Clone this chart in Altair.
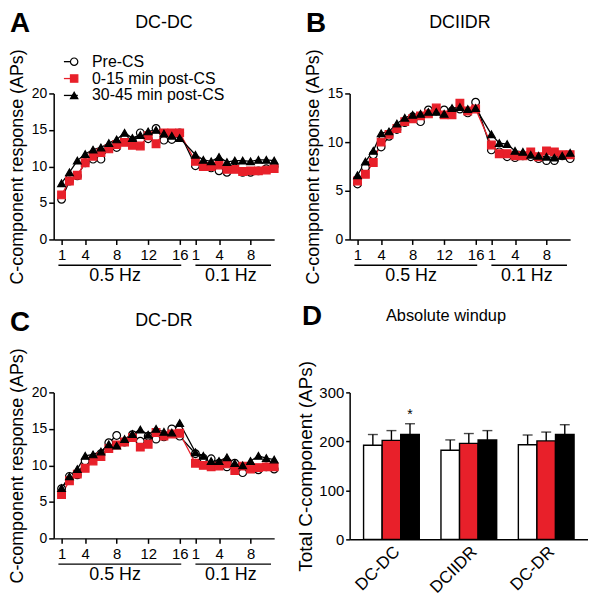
import altair as alt
import pandas as pd

FONT = "Liberation Sans"
SERIES = ["Pre-CS", "0-15 min post-CS", "30-45 min post-CS"]
LINE_COLORS = ["#000000", "#e8202a", "#000000"]
FILL_COLORS = ["#ffffff", "#e8202a", "#000000"]
SHAPES = ["circle", "square", "triangle-up"]
BAR_FILLS = ["#ffffff", "#e8202a", "#231f20"]

# stimulus number: 16 at 0.5 Hz then 11 at 0.1 Hz
N_FAST = 16
XTICK_POS = [1, 4, 8, 12, 16, 18, 21, 25]

# ---- Panel A: DC-DC ----
A_pre = [5.5, 8.0, 8.7, 10.5, 11.0, 11.0, 12.5, 12.6, 13.8, 13.5, 14.6, 13.8, 15.2, 13.6, 13.7, 14.6,
         10.1, 10.2, 9.8, 9.4, 9.2, 9.8, 9.2, 9.2, 9.4, 9.7, 10.0]
A_early = [6.1, 8.0, 8.8, 10.5, 11.4, 11.9, 12.4, 13.0, 13.3, 12.9, 12.8, 14.2, 13.1, 14.6, 14.6, 14.6,
           10.7, 10.0, 10.0, 10.2, 9.6, 9.6, 9.3, 9.4, 9.4, 9.5, 9.7]
A_late = [7.7, 9.2, 10.8, 11.7, 12.3, 12.6, 13.2, 13.7, 14.6, 13.9, 14.3, 14.8, 15.0, 14.5, 14.2, 13.9,
          11.6, 10.9, 10.7, 11.3, 10.6, 10.8, 10.8, 10.7, 10.9, 10.9, 10.8]

# ---- Panel B: DCIIDR ----
B_pre = [5.7, 7.4, 8.7, 9.5, 10.6, 11.3, 12.0, 12.6, 12.1, 13.3, 13.2, 13.3, 13.2, 13.4, 13.0, 14.1,
         9.2, 9.0, 8.5, 8.4, 8.6, 8.5, 8.3, 8.1, 8.1, 8.6, 8.3]
B_early = [6.0, 6.7, 7.9, 10.0, 10.8, 11.4, 12.1, 12.4, 12.7, 12.9, 13.5, 12.8, 12.8, 14.0, 13.2, 13.4,
           9.7, 8.8, 8.8, 8.6, 8.6, 9.0, 8.5, 9.1, 9.0, 8.7, 8.7]
B_late = [6.6, 8.0, 9.1, 10.9, 11.1, 11.9, 12.5, 12.8, 12.9, 13.1, 13.1, 12.9, 13.5, 13.6, 13.4, 13.5,
          10.8, 9.9, 9.8, 9.1, 9.0, 8.7, 8.6, 8.5, 8.4, 8.6, 8.9]

# ---- Panel C: DC-DR ----
C_pre = [6.8, 8.5, 8.7, 10.6, 11.0, 11.6, 13.1, 14.1, 13.2, 14.2, 13.3, 14.0, 13.6, 13.9, 15.0, 14.0,
         11.6, 11.0, 10.9, 10.3, 9.8, 10.3, 9.0, 9.8, 9.4, 9.8, 9.5]
C_early = [6.0, 7.9, 8.8, 9.6, 10.6, 11.2, 12.3, 12.8, 13.2, 13.8, 12.5, 12.9, 14.5, 14.0, 14.3, 14.4,
           10.3, 10.0, 9.8, 9.9, 10.2, 9.3, 9.9, 9.5, 9.7, 9.8, 9.8]
C_late = [6.9, 8.5, 9.5, 11.3, 11.5, 11.9, 12.9, 12.7, 13.6, 14.3, 14.9, 14.2, 15.0, 14.6, 14.5, 15.8,
          11.8, 11.3, 10.6, 10.6, 11.1, 10.3, 10.0, 10.6, 11.3, 11.0, 10.8]

# frequency underlines (in stimulus-position units)
HZ_LABELS = ["0.5 Hz", "0.1 Hz"]
HZ_START = [0.6, 18.0]
HZ_END = [16.2, 27.6]
HZ_MID = [7.8, 22.5]

# ---- Panel D: absolute windup ----
BAR_COND = ["DC-DC", "DCIIDR", "DC-DR"]
PRE_MEAN = [192, 182, 193]
EARLY_MEAN = [202, 196, 201]
LATE_MEAN = [214, 203, 214]
PRE_SEM = [22, 21, 20]
EARLY_SEM = [20, 20, 18]
LATE_SEM = [22, 19, 20]
STAR_COND = ["DC-DC"]
STAR_SERIES = ["30-45 min post-CS"]

W, H = 222, 147
WD, HD = 240, 148


def long_df(pre, early, late):
    rows = []
    for si, (s, vals) in enumerate(zip(SERIES, [pre, early, late])):
        for k, v in enumerate(vals, start=1):
            pos = k if k <= N_FAST else k + 1
            rows.append({"series": s, "series_l": s, "sidx": si, "pos": pos, "value": v})
    return pd.DataFrame(rows)


def text_layer(text, x, y, size, weight="normal", align="left", baseline="alphabetic"):
    return alt.Chart(pd.DataFrame({"t": [text]})).mark_text(
        font=FONT, fontSize=size, fontWeight=weight, align=align, baseline=baseline, color="black"
    ).encode(x=alt.value(x), y=alt.value(y), text="t:N")


def line_panel(df, ymax, yticks, letter, title, title_y, show_legend):
    xscale = alt.Scale(domain=[0, 28], nice=False, zero=False)
    yscale = alt.Scale(domain=[0, ymax], nice=False)
    xaxis = alt.Axis(values=XTICK_POS, title=None, labelPadding=3, labelOverlap=False, labelFlush=False,
                     labelFontSize=15,
                     labelExpr="datum.value > 16 ? datum.value - 17 : datum.value")
    yaxis = alt.Axis(values=yticks, title="C-component response (APs)", titlePadding=5, labelOverlap=False)
    xenc = alt.X("pos:Q", scale=xscale, axis=xaxis)
    yenc = alt.Y("value:Q", scale=yscale, axis=yaxis)
    if show_legend:
        line_leg = alt.Legend(title=None, orient="none", legendX=9.3, legendY=-40, symbolType="stroke",
                              symbolSize=196, symbolStrokeWidth=1.3, labelExpr="''", labelFontSize=16,
                              labelFont=FONT, rowPadding=1, padding=0, labelOffset=0)
        pt_leg = alt.Legend(title=None, orient="none", legendX=12.6, legendY=-40, symbolSize=55,
                            symbolStrokeWidth=1.2, labelFontSize=16, labelFont=FONT, labelColor="black",
                            rowPadding=1, padding=0, labelOffset=10)
    else:
        line_leg = None
        pt_leg = None
    lines = alt.Chart(df).mark_line(strokeWidth=1.3).encode(
        x=xenc, y=yenc,
        color=alt.Color("series_l:N", sort=SERIES, scale=alt.Scale(range=LINE_COLORS), legend=line_leg),
    )
    points = alt.Chart(df).mark_point(size=60, strokeWidth=1.2, opacity=1).encode(
        x=xenc, y=yenc,
        shape=alt.Shape("series:N", scale=alt.Scale(domain=SERIES, range=SHAPES), legend=pt_leg),
        fill=alt.Fill("series:N", scale=alt.Scale(domain=SERIES, range=FILL_COLORS), legend=pt_leg),
        stroke=alt.Stroke("series:N", scale=alt.Scale(domain=SERIES, range=LINE_COLORS), legend=pt_leg),
        order=alt.Order("sidx:Q"),
    )
    hz = pd.DataFrame({"label": HZ_LABELS, "start": HZ_START, "end": HZ_END, "mid": HZ_MID})
    under = alt.Chart(hz).mark_rule(color="black", strokeWidth=1.3).encode(
        x=alt.X("start:Q", scale=xscale, axis=xaxis), x2="end:Q", y=alt.value(H + 26))
    hz_txt = alt.Chart(hz).mark_text(font=FONT, fontSize=18, baseline="middle", color="black").encode(
        x=alt.X("mid:Q", scale=xscale, axis=xaxis), y=alt.value(H + 37), text="label:N")
    return alt.layer(
        lines, points, under, hz_txt,
        text_layer(letter, -44, -62, 28, weight="bold"),
        text_layer(title, W / 2, title_y, 18, align="center", baseline="middle"),
    ).properties(width=W, height=H)


A = line_panel(long_df(A_pre, A_early, A_late), 20, [0, 5, 10, 15, 20], "A", "DC-DC", -71, True)
B = line_panel(long_df(B_pre, B_early, B_late), 15, [0, 5, 10, 15], "B", "DCIIDR", -71, False)
C = line_panel(long_df(C_pre, C_early, C_late), 20, [0, 5, 10, 15, 20], "C", "DC-DR", -72, False)

# bar data
brows = []
for s, means, sems in zip(SERIES, [PRE_MEAN, EARLY_MEAN, LATE_MEAN], [PRE_SEM, EARLY_SEM, LATE_SEM]):
    for c, m, e in zip(BAR_COND, means, sems):
        brows.append({"cond": c, "series": s, "mean": m, "upper": m + e})
bdf = pd.DataFrame(brows)
star_df = bdf[bdf["cond"].isin(STAR_COND) & bdf["series"].isin(STAR_SERIES)].assign(star="*")

bscale = alt.Scale(paddingInner=0.28, paddingOuter=0.18)
bxaxis = alt.Axis(title=None, labelAngle=-45, labelFontSize=17, ticks=False, labelPadding=4)
byscale = alt.Scale(domain=[0, 300], nice=False)
byaxis = alt.Axis(values=[0, 100, 200, 300], title="Total C-component (APs)", titleFontSize=19,
                  labelFontSize=15, tickSize=4, titlePadding=3)
bx = alt.X("cond:N", sort=BAR_COND, scale=bscale, axis=bxaxis)
bxo = alt.XOffset("series:N", sort=SERIES, scale=alt.Scale(paddingInner=0, paddingOuter=0))
by = alt.Y("mean:Q", scale=byscale, axis=byaxis)
bar_leg = alt.Legend(title=None, orient="none", legendX=18, legendY=-40, symbolType="square", symbolSize=144,
                     symbolStrokeColor="black", symbolStrokeWidth=1.3, labelFontSize=14, labelFont=FONT,
                     rowPadding=2, padding=0, labelOffset=7)
bars = alt.Chart(bdf).mark_bar(stroke="black", strokeWidth=1.4).encode(
    x=bx, xOffset=bxo, y=by,
    fill=alt.Fill("series:N", sort=SERIES, scale=alt.Scale(domain=SERIES, range=BAR_FILLS), legend=bar_leg),
)
err = alt.Chart(bdf).mark_rule(color="black", strokeWidth=1.4).encode(
    x=bx, xOffset=bxo, y=by, y2="upper:Q")
cap = alt.Chart(bdf).mark_tick(color="black", thickness=1.4, size=10).encode(
    x=bx, xOffset=bxo, y=alt.Y("upper:Q", scale=byscale, axis=byaxis))
star = alt.Chart(star_df).mark_text(font=FONT, fontSize=14, baseline="middle", color="black", dy=-9).encode(
    x=bx, xOffset=bxo, y=alt.Y("upper:Q", scale=byscale, axis=byaxis), text="star:N")
D = alt.layer(
    bars, err, cap, star,
    text_layer("D", -48, -68, 28, weight="bold"),
    text_layer("Absolute windup", 97, -77, 16.5, align="center", baseline="middle"),
).properties(width=WD, height=HD)

chart = alt.concat(
    A, B, C, D, columns=2,
    spacing=alt.RowColnumber(row=154, column=76),
    bounds="flush", align="each",
).properties(padding=0).configure(font=FONT).configure_view(
    stroke=None
).configure_axis(
    domainColor="black", domainWidth=1.5, tickColor="black", tickWidth=1.5, tickSize=5,
    labelColor="black", titleColor="black", labelFont=FONT, titleFont=FONT,
    labelFontSize=14, titleFontSize=18, titleFontWeight="normal", grid=False, labelPadding=2,
    labelOverlap=False,
)

chart.save("out.html", embed_options={"renderer": "svg", "actions": False})
